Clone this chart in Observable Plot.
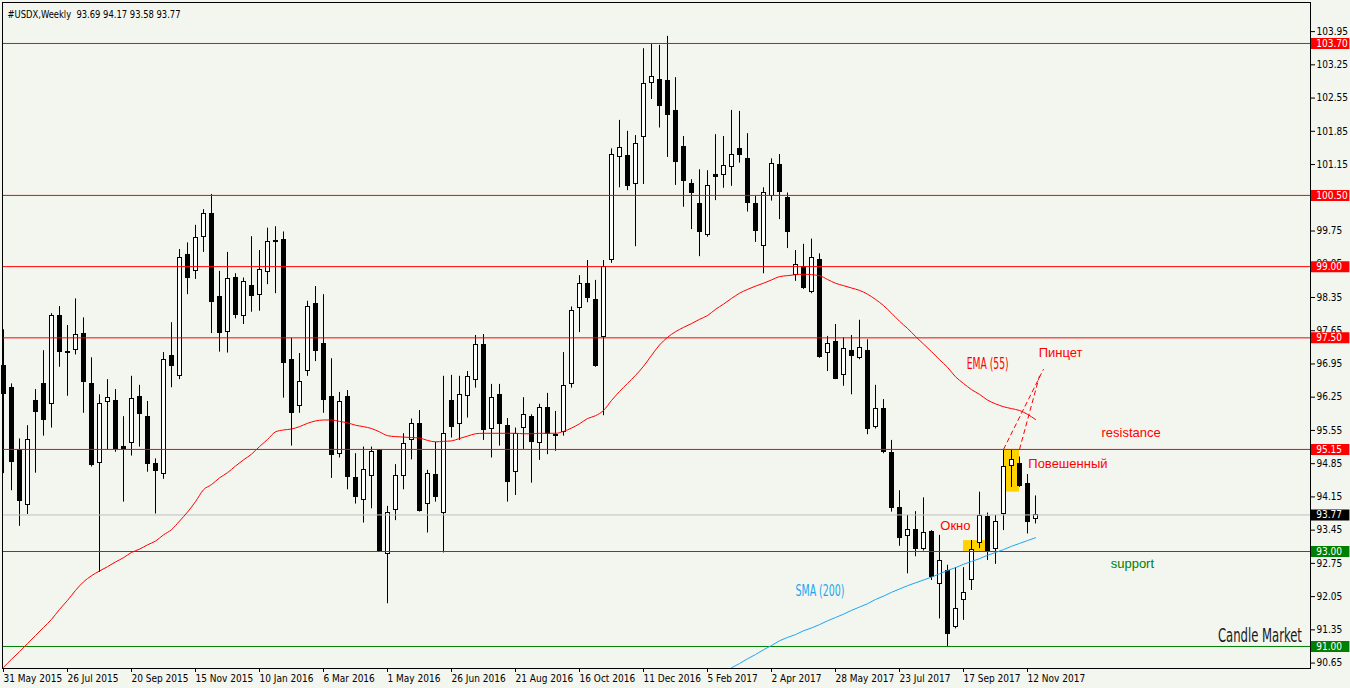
<!DOCTYPE html>
<html><head><meta charset="utf-8">
<script src="https://cdn.jsdelivr.net/npm/d3@7"></script>
<script src="https://cdn.jsdelivr.net/npm/@observablehq/plot@0.6"></script>
<style>
html,body{margin:0;padding:0;background:#F3F5EF;}
#chart svg{display:block}
svg text{white-space:pre}
</style></head><body><div id="chart"></div>
<script>
// Weekly candles, index 0 = week of 31 May 2015
const opens = [
96.90,96.45,95.14,93.98,96.16,96.53,96.11,97.95,97.21,97.25,
97.59,96.53,94.87,96.15,96.16,95.20,95.29,96.26,95.84,94.85,
94.64,97.11,96.69,99.25,98.90,99.63,100.10,98.35,97.62,98.77,
97.96,98.60,98.41,98.89,99.55,99.57,97.04,96.07,96.80,98.22,
97.36,96.26,95.06,96.26,94.54,94.09,94.59,95.13,92.95,93.88,
94.58,95.35,95.69,94.00,94.62,93.82,96.16,95.69,96.27,96.62,
97.34,95.58,96.29,95.65,94.67,95.61,95.84,95.28,96.03,95.46,
95.51,96.53,98.12,98.64,98.30,97.51,99.13,101.30,101.32,100.74,
101.73,102.87,102.94,102.90,102.27,101.53,100.74,100.32,99.67,100.94,
100.93,101.09,101.47,101.27,100.32,99.43,100.49,101.15,100.45,98.83,
98.99,98.46,99.14,97.18,97.42,96.72,97.23,97.08,97.23,95.62,
96.01,95.08,93.92,93.32,93.46,93.06,93.42,92.32,92.60,91.42,
91.97,92.39,93.18,93.72,93.06,93.78,94.81,94.85,94.43,93.69];
const highs = [
97.67,96.53,95.37,95.65,96.41,97.23,98.01,98.16,97.76,98.32,
97.92,97.08,96.30,96.62,96.41,95.84,96.69,96.50,96.16,94.95,
97.19,97.82,99.36,99.50,99.87,100.20,100.52,98.90,99.30,98.85,
98.76,99.63,99.34,99.81,99.84,99.73,97.49,97.17,98.27,98.58,
98.41,97.06,96.35,96.39,95.06,95.20,95.20,95.14,93.95,94.83,
95.48,95.79,95.97,94.71,95.30,96.69,96.71,96.69,96.79,97.55,
97.57,96.52,96.52,95.80,95.60,96.24,95.88,96.10,96.33,95.95,
97.19,98.15,98.81,99.13,98.71,99.13,101.48,102.08,101.85,101.76,
103.59,103.68,103.66,103.85,102.98,101.74,100.83,101.04,101.02,101.78,
101.74,102.29,102.27,101.80,100.48,100.66,101.27,101.36,100.55,99.34,
99.47,99.58,99.27,97.53,97.78,97.50,97.55,97.87,97.46,96.50,
96.20,95.34,94.28,93.76,93.84,94.13,93.44,93.34,92.71,92.66,
92.66,93.23,94.25,93.81,93.76,95.13,95.13,94.99,94.62,94.17];
const lows = [
94.64,94.28,93.53,93.78,94.65,95.43,95.60,96.88,96.27,97.14,
95.91,94.78,92.56,95.14,95.09,94.04,95.01,95.20,94.67,93.79,
94.52,96.45,96.62,98.41,98.73,99.30,97.59,97.20,97.18,97.90,
97.78,98.04,98.06,98.62,98.43,96.23,95.22,95.91,96.69,97.00,
95.91,94.54,94.97,94.30,94.00,93.60,93.90,92.99,91.90,93.65,
94.30,94.93,93.83,93.39,94.04,92.97,95.39,95.34,95.81,96.44,
95.34,94.97,95.22,94.04,94.18,95.15,94.44,94.92,95.04,95.11,
95.43,96.44,97.61,98.24,96.88,95.86,99.07,100.66,100.60,99.42,
100.73,102.52,101.92,101.30,100.71,100.25,99.78,99.21,99.62,100.39,
100.65,100.69,101.18,100.15,99.51,98.85,100.38,99.99,99.38,98.69,
98.52,98.43,97.07,96.79,96.62,96.48,96.30,97.04,95.46,95.58,
95.06,93.83,93.11,92.53,92.89,93.01,92.39,91.58,90.98,91.37,
91.55,92.18,93.06,92.81,92.73,93.44,94.35,94.35,93.37,93.58];
const closes = [
96.32,94.88,94.06,95.35,95.93,95.76,97.97,97.20,97.18,97.56,
96.57,94.83,96.11,96.24,95.15,95.15,96.22,95.90,94.85,94.69,
97.04,96.90,99.19,98.76,99.61,100.10,98.25,97.60,98.73,97.98,
98.67,98.38,98.92,99.51,99.51,96.97,95.91,96.56,98.14,97.22,
96.19,95.03,96.14,94.56,94.14,94.71,95.09,93.01,93.82,94.58,
95.27,95.69,93.86,94.64,94.14,95.48,95.63,96.30,96.68,97.34,
95.55,96.24,95.69,94.46,95.48,95.88,95.30,96.03,95.48,95.43,
96.49,98.07,98.64,98.33,96.90,99.00,101.35,101.50,100.69,101.59,
102.84,103.00,102.38,102.20,101.20,100.80,100.55,99.73,100.70,100.88,
101.11,101.35,101.36,100.34,99.75,100.55,101.17,100.57,99.73,99.04,
98.55,99.19,97.09,97.37,96.64,97.27,97.11,97.29,95.58,96.01,
95.09,93.91,93.29,93.46,93.06,93.39,92.47,92.81,91.27,91.79,
92.13,93.04,93.74,93.01,93.62,94.79,94.92,94.37,93.62,93.77];

// EMA(55) read per candle
const ema55 = [
90.56,90.73,90.89,91.06,91.23,91.40,91.57,91.78,91.97,92.18,
92.36,92.49,92.59,92.68,92.78,92.87,92.98,93.05,93.14,93.22,
93.35,93.46,93.64,93.83,94.05,94.30,94.41,94.55,94.66,94.80,
94.93,95.05,95.21,95.36,95.52,95.56,95.58,95.63,95.70,95.75,
95.77,95.77,95.74,95.71,95.66,95.63,95.59,95.52,95.44,95.42,
95.41,95.40,95.39,95.34,95.31,95.32,95.33,95.38,95.43,95.48,
95.49,95.49,95.49,95.49,95.49,95.48,95.48,95.49,95.49,95.49,
95.53,95.60,95.69,95.80,95.86,95.97,96.18,96.37,96.54,96.71,
96.90,97.13,97.35,97.51,97.63,97.72,97.80,97.89,97.97,98.10,
98.21,98.33,98.44,98.52,98.59,98.65,98.72,98.79,98.81,98.83,
98.84,98.83,98.81,98.73,98.65,98.60,98.55,98.50,98.42,98.31,
98.18,98.02,97.85,97.70,97.53,97.37,97.21,97.04,96.88,96.68,
96.54,96.41,96.31,96.19,96.11,96.05,96.01,95.97,95.89,95.78];
// SMA(200), visible from candle 91 on
const smaFirstIndex = 91;
const sma200 = [
90.55,90.64,90.74,90.83,90.93,91.02,91.12,91.19,91.25,91.33,
91.39,91.46,91.54,91.61,91.68,91.76,91.83,91.90,91.99,92.06,
92.14,92.21,92.28,92.34,92.40,92.46,92.53,92.60,92.66,92.73,
92.79,92.85,92.92,92.98,93.04,93.11,93.17,93.23,93.29];

const dateLabels = ["31 May 2015","26 Jul 2015","20 Sep 2015","15 Nov 2015","10 Jan 2016","6 Mar 2016","1 May 2016","26 Jun 2016","21 Aug 2016","16 Oct 2016","11 Dec 2016","5 Feb 2017","2 Apr 2017","28 May 2017","23 Jul 2017","17 Sep 2017","12 Nov 2017"];
const weeksPerLabel = 8;
const yTickValues = [103.95,103.25,102.55,101.85,101.15,100.45,99.75,99.05,98.35,97.65,96.95,96.25,95.55,94.85,94.15,93.45,92.75,92.05,91.35,90.65];
const resistanceLevels = [103.70,100.50,99.00,97.50,95.15];
const supportLevels = [93.00,91.00];
const bidPrice = 93.77;
const titleText = "#USDX,Weekly  93.69 94.17 93.58 93.77";

// annotations (candle index, price)
const highlightBoxes = [{i1:125,i2:127,p1:95.15,p2:94.25},{i1:120,i2:123,p1:93.23,p2:93.00}];
const tweezerArrows = [{i1:125,p1:95.15,i2:130.0,p2:96.84},{i1:127,p1:95.15,i2:129.5,p2:96.70}];
const notes = [
  {text:"Окно",i:117.1,p:93.55,kind:"r"},
  {text:"Повешенный",i:128.1,p:94.85,kind:"r"},
  {text:"Пинцет",i:129.4,p:97.19,kind:"r"},
  {text:"resistance",i:137.25,p:95.51,kind:"r"},
  {text:"support",i:138.4,p:92.75,kind:"g"}
];
const narrowNotes = [
  {text:"EMA (55)",i:120.4,p:96.96,kind:"r",anchor:"start"},
  {text:"SMA (200)",i:99.0,p:92.18,kind:"b",anchor:"start"},
  {text:"Candle Market",i:162.3,p:91.23,kind:"k",anchor:"end"}
];

// ---- build
const candles = opens.map((o,i)=>({i,open:o,high:highs[i],low:lows[i],close:closes[i]}));
const emaPts = ema55.map((v,i)=>({i,v}));
const smaPts = sma200.map((v,k)=>({i:k+smaFirstIndex,v}));
const xTicks = dateLabels.map((_,k)=>k*weeksPerLabel);
const colorOf = {r:"#FF0000", g:"#008000", b:"#1EA5F0", k:"#1a1a1a"};
const labelBoxes = [
  ...resistanceLevels.map(v=>({v,c:"#FF0000"})),
  ...supportLevels.map(v=>({v,c:"#008000"})),
  {v:bidPrice,c:"#000000"}
];
const narrowStyle = {"EMA (55)":{size:16,len:42},"SMA (200)":{size:16,len:49},"Candle Market":{size:20,len:84}};
const fitWidths = Object.assign({[titleText]:173}, Object.fromEntries(Object.entries(narrowStyle).map(([k,v])=>[k,v.len])));
const startNotes = narrowNotes.filter(d=>d.anchor==="start");
const endNotes = narrowNotes.filter(d=>d.anchor==="end");

const plot = Plot.plot({
  width:1350, height:688,
  marginLeft:2, marginRight:40, marginTop:2, marginBottom:20,
  style:{background:"#F3F5EF", fontFamily:"'DejaVu Sans Condensed','DejaVu Sans',sans-serif", fontSize:"9.5px", color:"black"},
  x:{type:"linear", domain:[-0.125,163.375]},
  y:{type:"linear", domain:[90.536,104.563]},
  marks:[
    Plot.rect(highlightBoxes,{x1:"i1",x2:"i2",y1:"p1",y2:"p2",fill:"#FFD200"}),
    Plot.ruleX(candles,{x:"i",y1:"low",y2:"high",stroke:"black"}),
    Plot.rect(candles,{x1:d=>d.i-0.25,x2:d=>d.i+0.25,y1:"open",y2:"close",
      fill:d=>d.close>d.open?"white":"black",stroke:"black",shapeRendering:"crispEdges"}),
    Plot.ruleY(resistanceLevels,{stroke:"#FF0000"}),
    Plot.ruleY(supportLevels,{stroke:"#008000"}),
    Plot.ruleY([bidPrice],{stroke:"#C0C0C0"}),
    Plot.line(emaPts,{x:"i",y:"v",stroke:"#FF0000",strokeWidth:1,curve:"monotone-x",clip:true}),
    Plot.line(smaPts,{x:"i",y:"v",stroke:"#1EA5F0",strokeWidth:1,clip:true}),
    Plot.link(tweezerArrows,{x1:"i1",y1:"p1",x2:"i2",y2:"p2",stroke:"#FF0000",strokeDasharray:"5,3"}),
    Plot.text(notes,{x:"i",y:"p",text:"text",fill:d=>colorOf[d.kind],textAnchor:"start",
      fontFamily:"'Liberation Sans',Arial,sans-serif",fontSize:13}),
    Plot.text(startNotes,{x:"i",y:"p",text:"text",fill:d=>colorOf[d.kind],textAnchor:"start",
      fontFamily:"'Liberation Sans Narrow','DejaVu Sans Condensed',sans-serif",fontSize:d=>narrowStyle[d.text].size}),
    Plot.text(endNotes,{x:"i",y:"p",text:"text",fill:d=>colorOf[d.kind],textAnchor:"end",
      fontFamily:"'Liberation Sans Narrow','DejaVu Sans Condensed',sans-serif",fontSize:d=>narrowStyle[d.text].size}),
    Plot.frame({stroke:"black"}),
    Plot.axisY({anchor:"right",ticks:yTickValues,tickFormat:d=>d.toFixed(2),tickSize:4,tickPadding:2,fontSize:10,label:null}),
    Plot.axisX({ticks:xTicks,tickFormat:d=>dateLabels[d/weeksPerLabel],tickSize:4,tickPadding:2,textAnchor:"start",fontSize:10,label:null}),
    Plot.ruleY(labelBoxes,{y:"v",x1:163.5,x2:168.3,stroke:"c",strokeWidth:11,clip:false}),
    Plot.text(labelBoxes,{y:"v",x:164.1,text:d=>d.v.toFixed(2),fill:"white",textAnchor:"start",fontSize:10,clip:false}),
    Plot.text([titleText],{frameAnchor:"top-left",dx:5,dy:8,text:d=>d,textAnchor:"start",fontSize:10.5})
  ]
});
document.getElementById("chart").appendChild(plot);
d3.select(plot).selectAll("text").each(function(){
  const w = fitWidths[this.textContent];
  if (w) { this.setAttribute("textLength", w); this.setAttribute("lengthAdjust","spacingAndGlyphs"); }
});
</script>
</body></html>
